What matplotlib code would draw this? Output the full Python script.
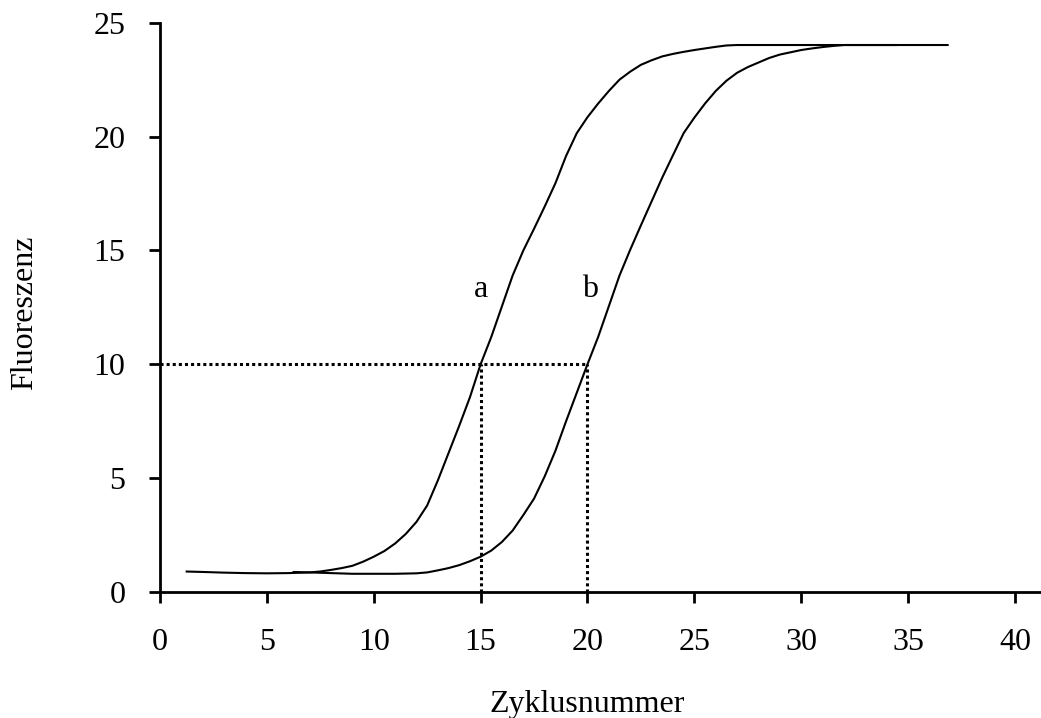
import matplotlib
matplotlib.use("Agg")
import matplotlib.pyplot as plt

# ---- data ----
cycles_a = [1.2, 2, 3, 4, 5, 6, 7, 7.5, 8, 8.5, 9, 9.5, 10, 10.5, 11, 11.5, 12, 12.5, 13, 13.5,
            14, 14.5, 15, 15.5, 16, 16.5, 17, 17.5, 18, 18.5, 19, 19.5, 20, 20.5, 21, 21.5,
            22, 22.5, 23, 23.5, 24, 24.5, 25, 25.5, 26, 26.5, 27, 28, 29, 30, 31, 32, 33, 34, 34.5]
fluor_a = [0.9, 0.88, 0.85, 0.83, 0.82, 0.83, 0.86, 0.9, 0.97, 1.05, 1.15, 1.33, 1.55, 1.8, 2.13,
           2.55, 3.08, 3.8, 4.9, 6.1, 7.3, 8.55, 10.0, 11.2, 12.55, 13.9, 15.0, 15.95, 16.93,
           17.95, 19.15, 20.15, 20.85, 21.45, 22.0, 22.5, 22.85, 23.15, 23.35, 23.52, 23.63,
           23.72, 23.8, 23.87, 23.94, 24.0, 24.02, 24.02, 24.02, 24.02, 24.02, 24.02, 24.02,
           24.02, 24.02]

cycles_b = [6.2, 7, 8, 9, 10, 11, 12, 12.5, 13, 13.5, 14, 14.5, 15, 15.5, 16, 16.5, 17, 17.5,
            18, 18.5, 19, 19.5, 20, 20.5, 21, 21.5, 22, 22.5, 23, 23.5, 24, 24.5, 25, 25.5,
            26, 26.5, 27, 27.5, 28, 28.5, 29, 29.5, 30, 30.5, 31, 31.5, 32, 33, 34, 35, 36, 36.9]
fluor_b = [0.88, 0.86, 0.83, 0.8, 0.8, 0.8, 0.82, 0.86, 0.95, 1.05, 1.18, 1.35, 1.55, 1.82, 2.2,
           2.7, 3.38, 4.1, 5.08, 6.2, 7.5, 8.75, 10.0, 11.2, 12.55, 13.9, 15.03, 16.1, 17.15,
           18.2, 19.18, 20.15, 20.83, 21.45, 22.0, 22.45, 22.8, 23.05, 23.25, 23.45, 23.6,
           23.7, 23.8, 23.87, 23.93, 23.98, 24.02, 24.02, 24.02, 24.02, 24.02, 24.02]

threshold = 10
ct_a = 15
ct_b = 20
curve_labels = ["a", "b"]
label_pos_x = [15.0, 20.1]
label_pos_y = [13.3, 13.3]

x_ticks = [0, 5, 10, 15, 20, 25, 30, 35, 40]
y_ticks = [0, 5, 10, 15, 20, 25]

plt.rcParams['font.family'] = ['Liberation Serif', 'DejaVu Serif']

fig = plt.figure(figsize=(10.41, 7.18), dpi=100)
ax = fig.add_axes([160/1041, 126/718, 1 - 160/1041, (592 - 22.7)/718])

line_kw = dict(color='black', lw=1.5, solid_joinstyle='round', solid_capstyle='butt')
ax.plot(cycles_a, fluor_a, **line_kw)
ax.plot(cycles_b, fluor_b, **line_kw)

dot = dict(color='black', lw=2.2, linestyle=(0, (1, 1)))
ax.plot([0, ct_b], [threshold, threshold], **dot)
ax.plot([ct_a, ct_a], [0, threshold], **dot)
ax.plot([ct_b, ct_b], [0, threshold], **dot)

for t, xx, yy in zip(curve_labels, label_pos_x, label_pos_y):
    ax.text(xx, yy, t, fontsize=23, ha='center', va='center')

ax.set_xlim(0, 41.22)
ax.set_ylim(0, 25)
ax.set_xticks(x_ticks)
ax.set_yticks(y_ticks)
ax.tick_params(direction='out', length=8, width=2, labelsize=23)
ax.tick_params(axis='x', pad=18)
ax.tick_params(axis='y', pad=17)
for s in ['top', 'right']:
    ax.spines[s].set_visible(False)
for s in ['left', 'bottom']:
    ax.spines[s].set_linewidth(2)

fig.text(587/1041, 1 - 712/718, "Zyklusnummer", fontsize=23, ha='center', va='baseline')
fig.text(25/1041, 1 - 313/718, "Fluoreszenz", fontsize=23, ha='center', va='center', rotation=90)

fig.savefig("out.png", dpi=100)
